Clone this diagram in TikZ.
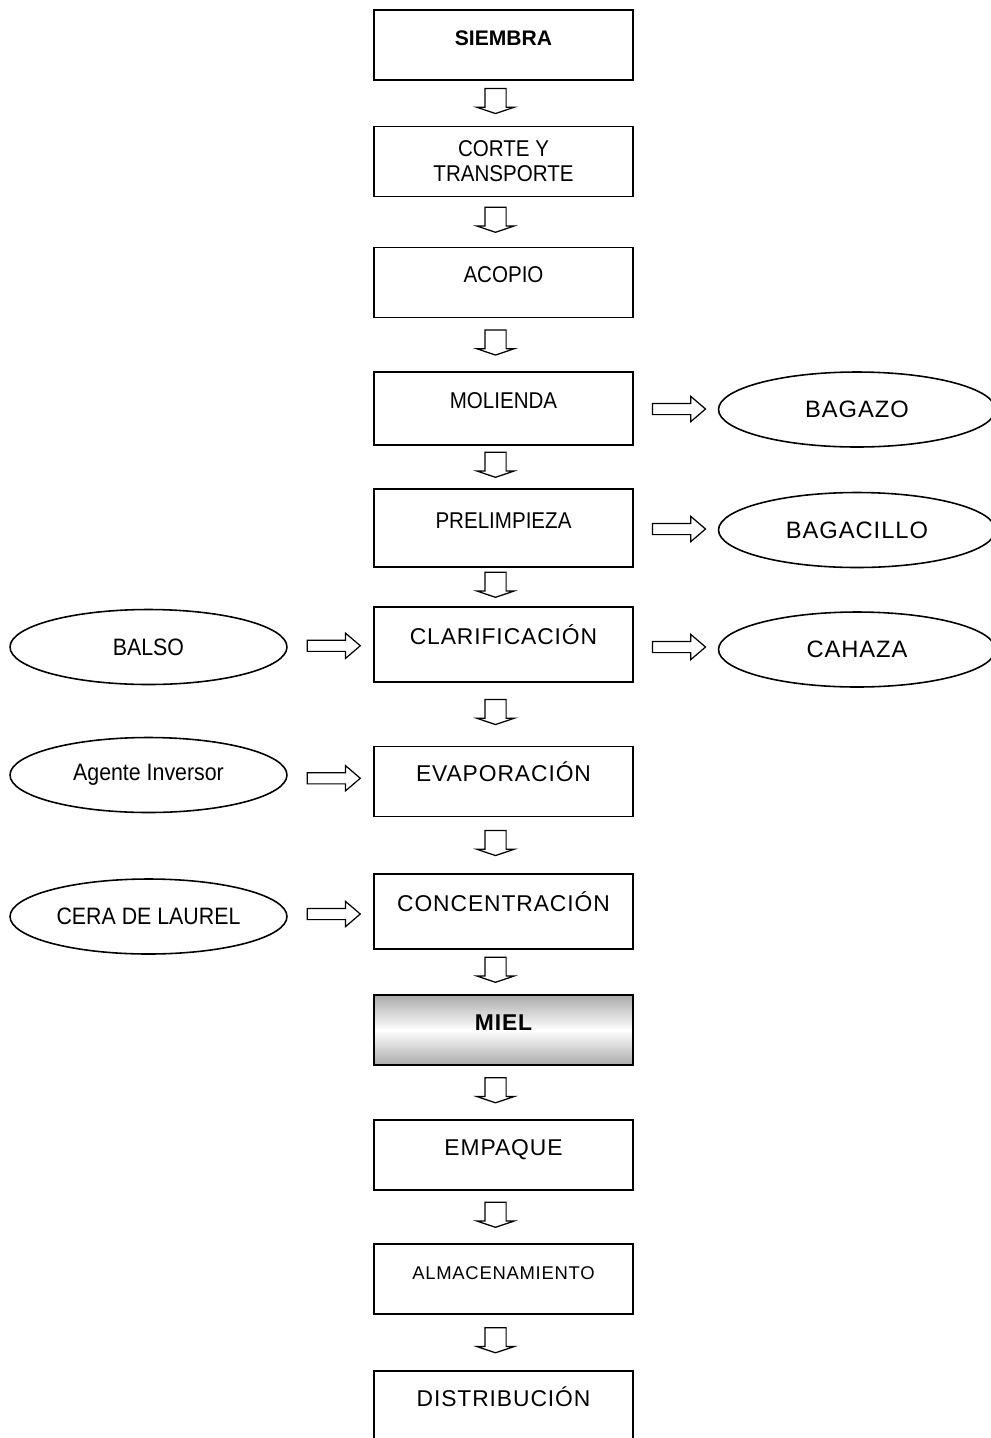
\documentclass[tikz,border=0pt]{standalone}
\usepackage{fontspec}
\setmainfont{Liberation Sans}
\newfontfamily\angosta[FakeStretch=0.9]{Liberation Sans}
\newfontfamily\espaciada[LetterSpace=4]{Liberation Sans}
\usepackage{tikz}
\usetikzlibrary{shapes.geometric,shapes.arrows,calc}
\definecolor{mielgris}{RGB}{170,170,170}

\tikzset{
  caja/.style={draw, line width=0.9pt, minimum width=5.18cm, minimum height=1.4cm,
    inner sep=0pt, align=center, font=\angosta\fontsize{13}{14.2}\selectfont},
  paso/.style={caja, text height=0.3cm, text depth=0.3cm},
  residuo/.style={ellipse, draw, line width=0.9pt, minimum width=5.54cm, minimum height=1.5cm,
    inner sep=0pt, font=\angosta\fontsize{13.5}{15}\selectfont},
  bajada/.style={single arrow, draw, line width=0.7pt, minimum height=0.5cm, minimum width=0.72cm,
    text height=0.2cm, text depth=0.2cm,
    single arrow head extend=0.16cm, single arrow tip angle=143, rotate=-90, inner sep=0pt},
  lateral/.style={single arrow, draw, line width=0.7pt, minimum height=1.06cm, minimum width=0.48cm,
    text height=0.1cm, text depth=0.1cm,
    single arrow head extend=0.14cm, single arrow tip angle=81, inner sep=0pt},
}

\begin{document}
\begin{tikzpicture}[x=0.02cm, y=-0.02cm]
  \useasboundingbox (0,0) rectangle (991,1438);
  \clip (0,0) rectangle (991,1438);

  % proceso principal
  \node[paso, font=\fontsize{12}{14}\selectfont\bfseries] (siembra) at (503.5,45) {SIEMBRA};
  \node[caja] (corte) at (503.5,161.5) {CORTE Y\\TRANSPORTE};
  \node[paso] (acopio) at (503.5,282.5) {ACOPIO};
  \node[paso, minimum height=1.46cm] (molienda) at (503.5,408.5) {MOLIENDA};
  \node[paso, minimum height=1.56cm] (prelimpieza) at (503.5,528) {PRELIMPIEZA};
  \node[paso, minimum height=1.5cm] (clarificacion) at (503.5,644.5) {\espaciada CLARIFICACIÓN};
  \node[paso] (evaporacion) at (503.5,781.5) {\espaciada EVAPORACIÓN};
  \node[paso, minimum height=1.5cm] (concentracion) at (503.5,911.5) {\espaciada CONCENTRACIÓN};
  \node[paso, top color=mielgris, bottom color=mielgris, middle color=white] (miel) at (503.5,1030)
    {\espaciada\bfseries MIEL};
  \node[paso] (empaque) at (503.5,1155) {\espaciada EMPAQUE};
  \node[paso, font=\espaciada\fontsize{10.5}{12}\selectfont] (almacenamiento) at (503.5,1279)
    {ALMACENAMIENTO};
  \node[paso] (distribucion) at (503.5,1406) {\espaciada DISTRIBUCIÓN};

  % residuos
  \node[residuo] (bagazo) at (857,409.5) {\espaciada BAGAZO};
  \node[residuo] (bagacillo) at (857,530) {\espaciada BAGACILLO};
  \node[residuo] (cahaza) at (857,649.5) {\espaciada CAHAZA};

  % insumos
  \node[residuo] (balso) at (148.5,647) {BALSO};
  \node[residuo] (agente) at (148.5,775) {Agente Inversor};
  \node[residuo] (cera) at (148.5,916.5) {CERA DE LAUREL};

  % flechas
  \foreach \a/\b in {siembra/corte, corte/acopio, acopio/molienda, molienda/prelimpieza,
      prelimpieza/clarificacion, clarificacion/evaporacion, evaporacion/concentracion,
      concentracion/miel, miel/empaque, empaque/almacenamiento, almacenamiento/distribucion} {
    \node[bajada] (f-\a) at ($(\a.south)!0.5!(\b.north)+(-8,-4)$) {};
  }
  \foreach \a/\b in {molienda/bagazo, prelimpieza/bagacillo, clarificacion/cahaza,
      balso/clarificacion, agente/evaporacion, cera/concentracion} {
    \node[lateral] (l-\a) at ($(\a.east)!0.5!(\b.west)$) {};
  }
\end{tikzpicture}
\end{document}
